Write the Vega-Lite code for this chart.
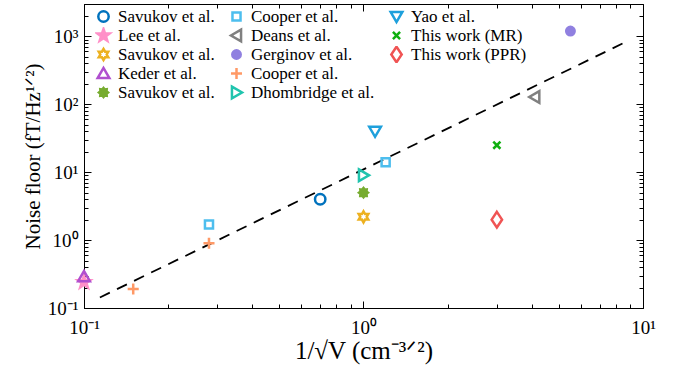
{
  "$schema": "https://vega.github.io/schema/vega-lite/v6.json",
  "autosize": "none",
  "width": 559,
  "height": 304,
  "padding": {"left": 84, "top": 4, "right": 30, "bottom": 66},
  "background": "white",
  "config": {
    "view": {"stroke": "black", "strokeWidth": 1},
    "font": "Liberation Serif",
    "style": {"guide-label": {"font": "Liberation Serif"}, "guide-title": {"font": "Liberation Serif"}},
    "axis": {
      "domainColor": "black",
      "tickColor": "black",
      "labelColor": "black",
      "titleColor": "black",
      "labelFont": "Liberation Serif",
      "titleFont": "Liberation Serif",
      "labelFontSize": 19,
      "titleFontSize": 20,
      "titleFontWeight": "normal",
      "grid": false,
      "labelOverlap": false,
      "labelFlush": false
    },
    "legend": {
      "orient": "none",
      "legendX": 11,
      "legendY": 4,
      "padding": 0,
      "columns": 3,
      "labelFont": "Liberation Serif",
      "labelFontSize": 17,
      "labelColor": "black",
      "labelLimit": 300,
      "symbolSize": 169,
      "symbolStrokeWidth": 2.5,
      "clipHeight": 17,
      "rowPadding": 1,
      "columnPadding": 13,
      "labelOffset": 6
    }
  },
  "datasets": {
    "points": [
      {"series": "Savukov et al.|1", "x": 0.7, "y": 4.0},
      {"series": "Lee et al.", "x": 0.1, "y": 0.24},
      {"series": "Savukov et al.|2", "x": 1.0, "y": 2.2},
      {"series": "Keder et al.", "x": 0.1, "y": 0.29},
      {"series": "Savukov et al.|3", "x": 1.0, "y": 5.0},
      {"series": "Cooper et al.|1", "x": 0.28, "y": 1.7},
      {"series": "Cooper et al.|1", "x": 1.2, "y": 14},
      {"series": "Deans et al.", "x": 4.1, "y": 128},
      {"series": "Gerginov et al.", "x": 5.5, "y": 1200},
      {"series": "Cooper et al.|2", "x": 0.28, "y": 0.9},
      {"series": "Cooper et al.|2", "x": 0.15, "y": 0.19},
      {"series": "Dhombridge et al.", "x": 1.0, "y": 9},
      {"series": "Yao et al.", "x": 1.1, "y": 40},
      {"series": "This work (MR)", "x": 3.0, "y": 25},
      {"series": "This work (PPR)", "x": 3.0, "y": 2.0}
    ],
    "fit": [
      {"x": 0.114, "y": 0.143},
      {"x": 8.5, "y": 795}
    ]
  },
  "layer": [
    {
      "data": {"name": "fit"},
      "mark": {"type": "line", "color": "black", "strokeWidth": 1.8, "strokeDash": [11, 8]},
      "encoding": {
        "x": {
          "field": "x", "type": "quantitative",
          "scale": {"type": "log", "domain": [0.1, 10], "nice": false},
          "axis": {"orient": "bottom", "offset": -7, "tickSize": 7, "title": null, "labels": false, "domain": false, "values": [0.1, 1, 10]}
        },
        "y": {
          "field": "y", "type": "quantitative",
          "scale": {"type": "log", "domain": [0.1, 3000], "nice": false},
          "axis": {"orient": "left", "offset": -7, "tickSize": 7, "title": null, "labels": false, "domain": false, "values": [0.1, 1, 10, 100, 1000]}
        }
      }
    },
    {
      "data": {"name": "points"},
      "mark": {"type": "point", "opacity": 0},
      "encoding": {
        "x": {
          "field": "x", "type": "quantitative",
          "axis": {"orient": "bottom", "offset": -4, "tickSize": 4, "title": null, "labels": false, "domain": false, "values": [0.2,0.3,0.4,0.5,0.6,0.7,0.8,0.9,2,3,4,5,6,7,8,9]}
        },
        "y": {
          "field": "y", "type": "quantitative",
          "axis": {"orient": "left", "offset": -4, "tickSize": 4, "title": null, "labels": false, "domain": false, "values": [0.2,0.3,0.4,0.5,0.6,0.7,0.8,0.9,2,3,4,5,6,7,8,9,20,30,40,50,60,70,80,90,200,300,400,500,600,700,800,900,2000,3000]}
        }
      }
    },
    {
      "data": {"name": "points"},
      "mark": {"type": "point", "opacity": 0},
      "encoding": {
        "x": {
          "field": "x", "type": "quantitative",
          "axis": {"orient": "top", "offset": -7, "tickSize": 7, "title": null, "labels": false, "domain": false, "values": [0.1, 1, 10]}
        },
        "y": {
          "field": "y", "type": "quantitative",
          "axis": {"orient": "right", "offset": -7, "tickSize": 7, "title": null, "labels": false, "domain": false, "values": [0.1, 1, 10, 100, 1000]}
        }
      }
    },
    {
      "data": {"name": "points"},
      "mark": {"type": "point", "opacity": 0},
      "encoding": {
        "x": {
          "field": "x", "type": "quantitative",
          "axis": {"orient": "top", "offset": -4, "tickSize": 4, "title": null, "labels": false, "domain": false, "values": [0.2,0.3,0.4,0.5,0.6,0.7,0.8,0.9,2,3,4,5,6,7,8,9]}
        },
        "y": {
          "field": "y", "type": "quantitative",
          "axis": {"orient": "right", "offset": -4, "tickSize": 4, "title": null, "labels": false, "domain": false, "values": [0.2,0.3,0.4,0.5,0.6,0.7,0.8,0.9,2,3,4,5,6,7,8,9,20,30,40,50,60,70,80,90,200,300,400,500,600,700,800,900,2000,3000]}
        }
      }
    },
    {
      "data": {"name": "points"},
      "mark": {"type": "point", "opacity": 1, "strokeWidth": 2.5, "size": 169},
      "encoding": {
        "x": {
          "field": "x", "type": "quantitative",
          "axis": {
            "orient": "bottom",
            "title": "1/√V  (cm⁻³ᐟ²)",
            "titleFontSize": 25,
            "titlePadding": 1,
            "ticks": false,
            "labelPadding": 10,
            "values": [0.1, 1, 10],
            "labelExpr": "datum.value == 0.1 ? '10⁻¹' : datum.value == 1 ? '10⁰' : '10¹'"
          }
        },
        "y": {
          "field": "y", "type": "quantitative",
          "axis": {
            "orient": "left",
            "title": "Noise floor (fT/Hz¹ᐟ²)",
            "titleFontSize": 21,
            "titlePadding": 4,
            "ticks": false,
            "labelPadding": 6,
            "values": [0.1, 1, 10, 100, 1000],
            "labelExpr": "datum.value == 0.1 ? '10⁻¹' : datum.value == 1 ? '10⁰' : datum.value == 10 ? '10¹' : datum.value == 100 ? '10²' : '10³'"
          }
        },
        "stroke": {
          "field": "series", "type": "nominal",
          "scale": {
            "domain": ["Savukov et al.|1", "Lee et al.", "Savukov et al.|2", "Keder et al.", "Savukov et al.|3", "Cooper et al.|1", "Deans et al.", "Gerginov et al.", "Cooper et al.|2", "Dhombridge et al.", "Yao et al.", "This work (MR)", "This work (PPR)", "|a", "|b"],
            "range": ["#0072BD", "#FF90C8", "#EDB120", "#B04FCF", "#77AC30", "#4DBEEE", "#808080", "#9080E0", "#FF9966", "#20C4AE", "#1EA0DC", "#10B010", "#F05454", "transparent", "transparent"]
          },
          "legend": {"title": null, "labelFont": "Liberation Serif", "labelExpr": "split(datum.label, '|')[0]"}
        },
        "fill": {
          "field": "series", "type": "nominal",
          "scale": {
            "domain": ["Savukov et al.|1", "Lee et al.", "Savukov et al.|2", "Keder et al.", "Savukov et al.|3", "Cooper et al.|1", "Deans et al.", "Gerginov et al.", "Cooper et al.|2", "Dhombridge et al.", "Yao et al.", "This work (MR)", "This work (PPR)", "|a", "|b"],
            "range": ["transparent", "#FF90C8", "transparent", "transparent", "#77AC30", "transparent", "transparent", "#9080E0", "transparent", "transparent", "transparent", "transparent", "transparent", "transparent", "transparent"]
          },
          "legend": {"title": null, "labelFont": "Liberation Serif", "labelExpr": "split(datum.label, '|')[0]"}
        },
        "shape": {
          "field": "series", "type": "nominal",
          "scale": {
            "domain": ["Savukov et al.|1", "Lee et al.", "Savukov et al.|2", "Keder et al.", "Savukov et al.|3", "Cooper et al.|1", "Deans et al.", "Gerginov et al.", "Cooper et al.|2", "Dhombridge et al.", "Yao et al.", "This work (MR)", "This work (PPR)", "|a", "|b"],
            "range": [
              "M0.8,0A0.8,0.8,0,1,1,-0.8,0A0.8,0.8,0,1,1,0.8,0Z",
              "M0,-1L0.235,-0.324L0.951,-0.309L0.38,0.124L0.588,0.809L0,0.4L-0.588,0.809L-0.38,0.124L-0.951,-0.309L-0.235,-0.324Z",
              "M0,-0.85L0.245,-0.425L0.736,-0.425L0.491,0L0.736,0.425L0.245,0.425L0,0.85L-0.245,0.425L-0.736,0.425L-0.491,0L-0.736,-0.425L-0.245,-0.425Z",
              "M-0.9,0.7L0.9,0.7L0,-0.85Z",
              "M0.7,0L0.462,0.191L0.495,0.495L0.191,0.462L0,0.7L-0.191,0.462L-0.495,0.495L-0.462,0.191L-0.7,0L-0.462,-0.191L-0.495,-0.495L-0.191,-0.462L0,-0.7L0.191,-0.462L0.495,-0.495L0.462,-0.191Z",
              "M-0.62,-0.62L0.62,-0.62L0.62,0.62L-0.62,0.62Z",
              "M0.7,-0.9L-0.85,0L0.7,0.9Z",
              "M0.65,0A0.65,0.65,0,1,1,-0.65,0A0.65,0.65,0,1,1,0.65,0Z",
              "M-0.85,0L0.85,0M0,-0.85L0,0.85",
              "M-0.7,-0.9L0.85,0L-0.7,0.9Z",
              "M-0.9,-0.7L0.9,-0.7L0,0.85Z",
              "M-0.55,-0.55L0.55,0.55M-0.55,0.55L0.55,-0.55",
              "M0,-1.2L0.8,0L0,1.2L-0.8,0Z",
              "circle",
              "circle"
            ]
          },
          "legend": {"title": null, "labelFont": "Liberation Serif", "labelExpr": "split(datum.label, '|')[0]"}
        }
      }
    }
  ],
  "resolve": {"axis": {"x": "independent", "y": "independent"}}
}
